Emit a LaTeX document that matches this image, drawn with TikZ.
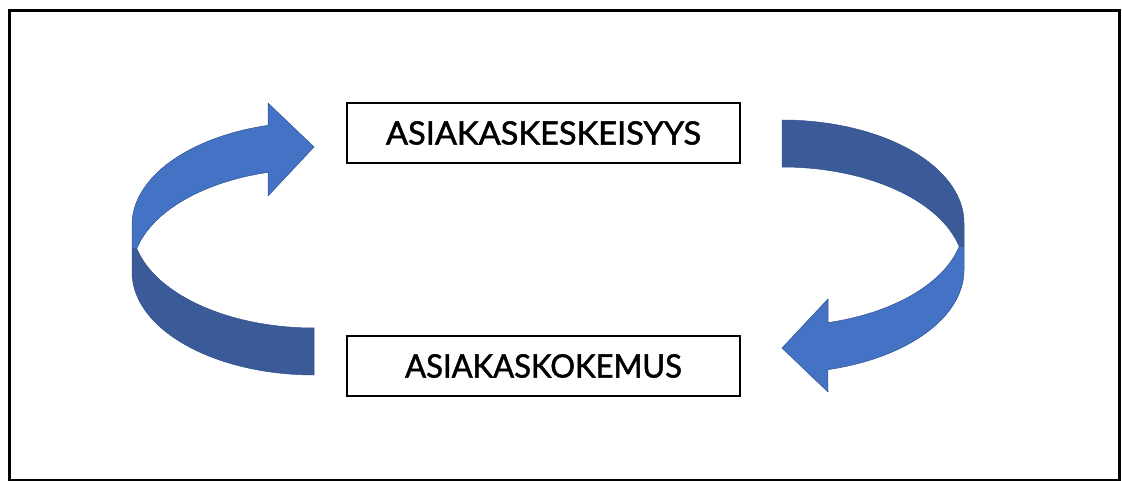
\documentclass[tikz,border=0pt]{standalone}
\usepackage{fontspec}
\setmainfont[FakeBold=1.5]{Lato}
\usepackage{graphicx}
\definecolor{arrlight}{HTML}{4472C4}
\definecolor{arrdark}{HTML}{3B5A98}
\definecolor{arredge}{HTML}{2F528F}
\tikzset{
  lightpart/.style={fill=arrlight, draw=arredge, line width=0.5pt, line join=round},
  darkpart/.style={fill=arrdark, draw=arredge, line width=0.5pt, line join=round},
  labelbox/.style={draw=black, line width=1.2pt, inner sep=0pt, minimum width=393pt, minimum height=60pt, fill=white},
  frame/.style={draw=black, line width=2.5pt}
}
\newcommand{\ringarrow}{%
  \path[darkpart] plot[domain=166.8:90,samples=60] ({314+182*cos(\x)},{225+103*sin(\x)})
     -- (314,375)
     -- plot[domain=90:180,samples=60] ({314+182*cos(\x)},{272+103*sin(\x)})
     -- (132,248.5) -- cycle;
  \path[lightpart] plot[domain=180:255.4,samples=60] ({314+182*cos(\x)},{225+103*sin(\x)})
     -- (268,103) -- (314,147) -- (268,196) -- (268,172.3)
     -- plot[domain=255.4:193.2,samples=60] ({314+182*cos(\x)},{272+103*sin(\x)})
     -- (132,248.5) -- cycle;
}
\begin{document}
\begin{tikzpicture}[x=1pt,y=-1pt]
\useasboundingbox (0,0) rectangle (1122,481);
\path[frame] (9.5,10.5) rectangle (1119.5,480);
\ringarrow
\begin{scope}[rotate around={180:(548,247.5)}]
\ringarrow
\end{scope}
\node[labelbox] (top) at (543.5,133) {\resizebox{315pt}{23.3pt}{ASIAKASKESKEISYYS}};
\node[labelbox] (bottom) at (543.5,366) {\resizebox{276.7pt}{23.4pt}{ASIAKASKOKEMUS}};
\end{tikzpicture}
\end{document}
